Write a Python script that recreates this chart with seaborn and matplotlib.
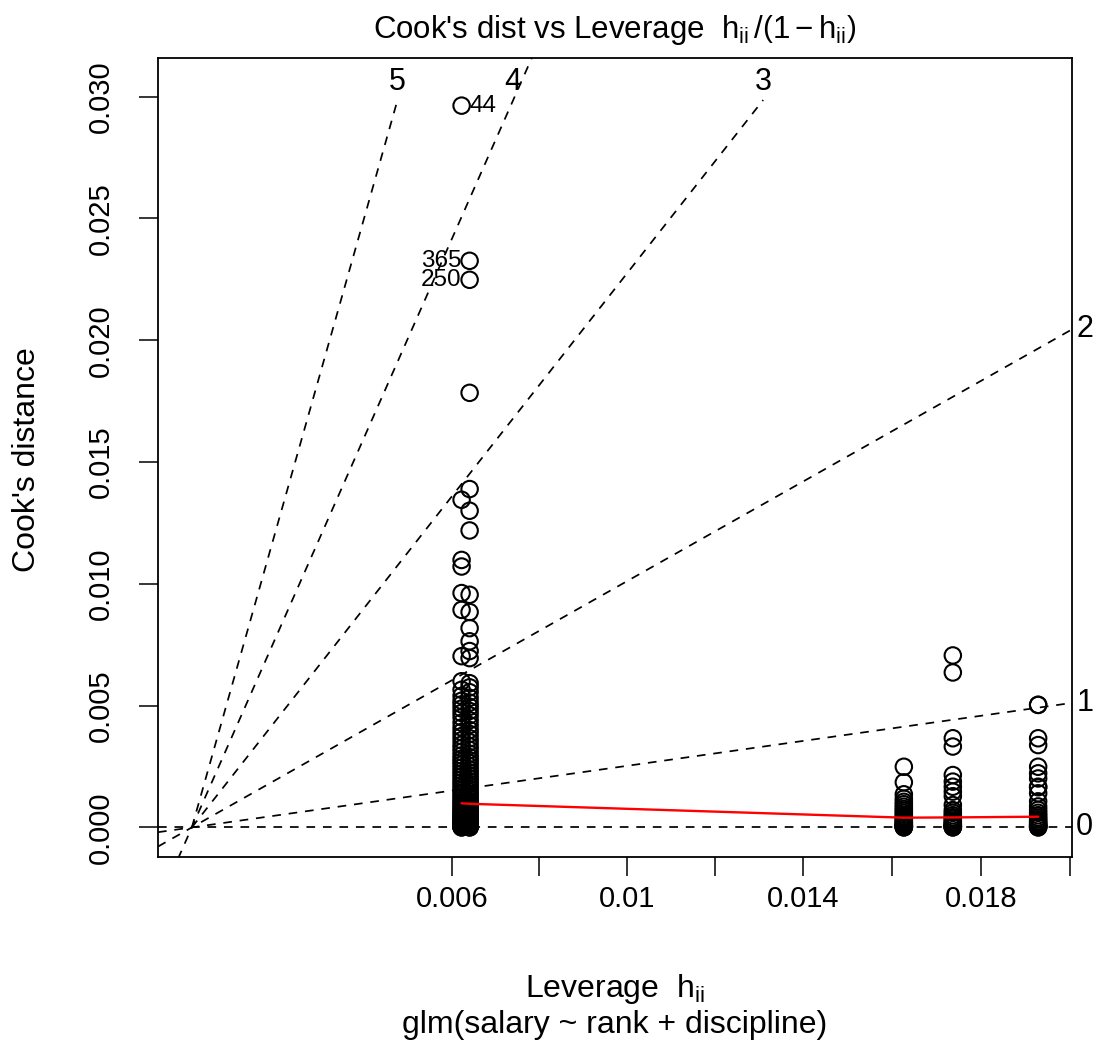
import numpy as np
import pandas as pd
import matplotlib
matplotlib.use("Agg")
import matplotlib.pyplot as plt
import seaborn as sns

# Leverage h_ii of each design cell of glm(salary ~ rank + discipline)
cell_leverage = [0.006227, 0.006411, 0.01627, 0.01737, 0.01928]

# Cook's distances of the observations in each cell
cook_cell1 = [0.02963, 0.01345, 0.01098, 0.01071, 0.00962, 0.00893, 0.00703,
              0.00600, 0.00565, 0.00540, 0.00520, 0.00505, 0.00488, 0.00470,
              0.00452, 0.00430, 0.00410, 0.00392, 0.00375, 0.00358, 0.00340,
              0.00325, 0.00310, 0.00295, 0.00282, 0.00270, 0.00258, 0.00245,
              0.00232, 0.00220, 0.00208, 0.00196, 0.00185, 0.00174, 0.00163,
              0.00152, 0.00142, 0.00132, 0.00122, 0.00113, 0.00104, 0.00096,
              0.00088, 0.00080, 0.00073, 0.00066, 0.00060, 0.00054, 0.00048,
              0.00043, 0.00038, 0.00033, 0.00029, 0.00025, 0.00021, 0.00018,
              0.00015, 0.00012, 0.00010, 0.00008, 0.00006, 0.00004, 0.00003,
              0.00002, 0.00001, 0.00000]
cook_cell2 = [0.02326, 0.02248, 0.01784, 0.01389, 0.01300, 0.01219, 0.00955,
              0.00884, 0.00818, 0.00764, 0.00724, 0.00695, 0.00592, 0.00575,
              0.00555, 0.00532, 0.00512, 0.00495, 0.00478, 0.00460, 0.00440,
              0.00420, 0.00400, 0.00384, 0.00366, 0.00350, 0.00333, 0.00318,
              0.00302, 0.00288, 0.00276, 0.00264, 0.00251, 0.00238, 0.00226,
              0.00214, 0.00202, 0.00190, 0.00179, 0.00168, 0.00157, 0.00147,
              0.00137, 0.00127, 0.00118, 0.00109, 0.00100, 0.00092, 0.00084,
              0.00077, 0.00070, 0.00063, 0.00057, 0.00051, 0.00046, 0.00041,
              0.00036, 0.00031, 0.00027, 0.00023, 0.00019, 0.00016, 0.00013,
              0.00010, 0.00008, 0.00006, 0.00004, 0.00002, 0.00001, 0.00000]
cook_cell3 = [0.00249, 0.00185, 0.00136, 0.00118, 0.00105, 0.00095, 0.00085,
              0.00076, 0.00068, 0.00060, 0.00052, 0.00045, 0.00039, 0.00033,
              0.00028, 0.00023, 0.00019, 0.00015, 0.00012, 0.00009, 0.00007,
              0.00005, 0.00003, 0.00002, 0.00001, 0.00000]
cook_cell4 = [0.00706, 0.00636, 0.00366, 0.00332, 0.00215, 0.00188, 0.00167,
              0.00147, 0.00128, 0.00092, 0.00071, 0.00060, 0.00050, 0.00042,
              0.00035, 0.00028, 0.00022, 0.00017, 0.00013, 0.00010, 0.00007,
              0.00005, 0.00003, 0.00002, 0.00001, 0.00000]
cook_cell5 = [0.00503, 0.00503, 0.00366, 0.00338, 0.00249, 0.00222, 0.00201,
              0.00167, 0.00165, 0.00140, 0.00107, 0.00086, 0.00072, 0.00060,
              0.00050, 0.00041, 0.00033, 0.00026, 0.00020, 0.00015, 0.00011,
              0.00008, 0.00005, 0.00003, 0.00001, 0.00000]
cook_cells = [cook_cell1, cook_cell2, cook_cell3, cook_cell4, cook_cell5]

# Smoothed Cook's distance at each cell (panel.smooth)
smooth_cook = [0.00099, 0.00097, 0.00040, 0.00041, 0.00044]

# Observations identified by number
label_ids = ["44", "365", "250"]
label_cook = [0.02963, 0.02326, 0.02248]
label_cell = [0, 1, 1]
label_side = ["right", "left", "left"]

# Leverage values for the x axis ticks
lev_ticks = [0.006, 0.008, 0.010, 0.012, 0.014, 0.016, 0.018, 0.020]
lev_tick_labels = ["0.006", "", "0.01", "", "0.014", "", "0.018", ""]
y_ticks = [0.000, 0.005, 0.010, 0.015, 0.020, 0.025, 0.030]

# Cook's distance contour levels and number of coefficients
contour_levels = [0, 1, 2, 3, 4, 5]
n_coef = 4

sns.set_style("white")
plt.rcParams["font.family"] = ["Liberation Sans", "DejaVu Sans"]
plt.rcParams["mathtext.fontset"] = "custom"
plt.rcParams["mathtext.rm"] = "Liberation Sans"
plt.rcParams["mathtext.it"] = "Liberation Sans"
plt.rcParams["mathtext.default"] = "regular"
plt.rcParams["text.color"] = "black"
plt.rcParams["axes.labelcolor"] = "black"

FS_TICK = 21
FS_LAB = 23
FS_TITLE = 22.5
W, H = 1099, 1057
fig = plt.figure(figsize=(W / 100, H / 100), dpi=100)
ax = fig.add_axes([158 / W, 1 - 857 / H, 914 / W, 799 / H])

rows = []
for lev, vals in zip(cell_leverage, cook_cells):
    for v in vals:
        rows.append({"g": lev / (1 - lev), "cook": v})
df = pd.DataFrame(rows)

sns.scatterplot(data=df, x="g", y="cook", ax=ax, marker="o", s=140,
                facecolor="none", edgecolor="black", linewidth=1.5,
                legend=False, zorder=3)

g_cells = [h / (1 - h) for h in cell_leverage]
sns.lineplot(x=g_cells, y=smooth_cook, ax=ax, color="red", linewidth=1.7,
             estimator=None, sort=False, zorder=4)

max_g = df["g"].max()
ymx = df["cook"].max() * 1.025
xmin, xmax = -0.04 * max_g, 1.04 * max_g
ymin, ymax = -0.04 * ymx, 1.04 * ymx
ax.set_xlim(xmin, xmax)
ax.set_ylim(ymin, ymax)

# identify the largest Cook's distances
for lab, c, ci, side in zip(label_ids, label_cook, label_cell, label_side):
    dx = 6 if side == "right" else -6
    ax.annotate(lab, xy=(g_cells[ci], c), xytext=(dx, 0),
                textcoords="offset points", ha="left" if side == "right" else "right",
                va="center", fontsize=17.5, zorder=5)

# Cook's distance contours
dash = (0, (5, 4.5))
ax_h_px = 799
y_per_px = (ymax - ymin) / ax_h_px
for b in contour_levels:
    slope = b * b / n_coef
    if n_coef * ymax > b * b * xmax or b == 4:
        xs = np.array([xmin, xmax])
        ax.plot(xs, slope * xs, color="black", linewidth=1.25, linestyle=dash, zorder=2)
        if n_coef * ymax > b * b * xmax:
            ax.annotate(str(b), xy=(xmax, slope * xmax), xytext=(3, 0),
                        textcoords="offset points", ha="left", va="center",
                        fontsize=FS_TICK + 1, annotation_clip=False)
            continue
    yi = ymax - 42 * y_per_px
    xi = n_coef * yi / (b * b)
    if b != 4:
        ax.plot([0, xi], [0, yi], color="black", linewidth=1.25, linestyle=dash, zorder=2)
    ax.text(xi, ymax - 24 * y_per_px, str(b), ha="center", va="center",
            fontsize=FS_TICK + 1)

ax.set_xticks([h / (1 - h) for h in lev_ticks])
ax.set_xticklabels(lev_tick_labels)
ax.set_yticks(y_ticks)
ax.set_yticklabels([f"{t:.3f}" for t in y_ticks], rotation=90, va="center")
ax.tick_params(axis="both", direction="out", length=14, width=1.1,
               labelsize=FS_TICK, color="black", labelcolor="black",
               bottom=True, left=True, top=False, right=False)
ax.tick_params(axis="x", pad=6)
ax.tick_params(axis="y", pad=17)
ax.set_xlabel("")
ax.set_ylabel("")
for s in ax.spines.values():
    s.set_visible(True)
    s.set_color("black")
    s.set_linewidth(1.3)

fig.text(615 / W, 1 - 30 / H, r"Cook's dist vs Leverage  $h_{ii}\,/\left(1-h_{ii}\right)$",
         ha="center", va="center", fontsize=FS_TITLE)
fig.text(615 / W, 1 - 989 / H, r"Leverage  $h_{ii}$", ha="center", va="center",
         fontsize=FS_LAB)
fig.text(615 / W, 1 - 1025 / H, "glm(salary ~ rank + discipline)",
         ha="center", va="center", fontsize=FS_LAB)
fig.text(27 / W, 1 - 460 / H, "Cook's distance", ha="center", va="center",
         rotation=90, fontsize=FS_LAB)

fig.savefig("out.png", dpi=100, facecolor="white")
